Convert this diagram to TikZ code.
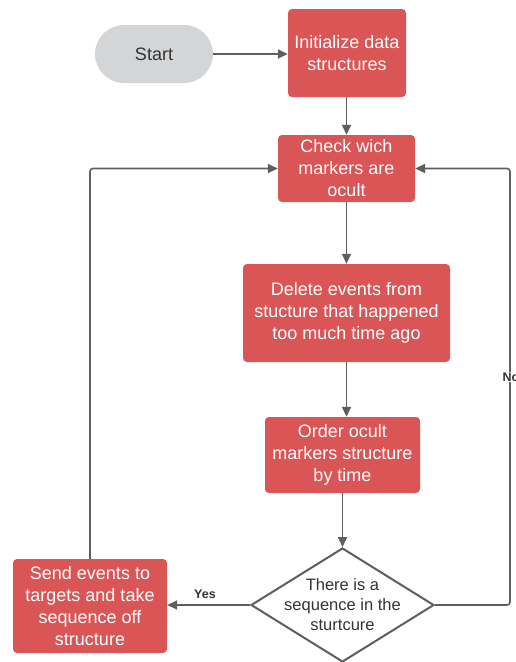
\documentclass[tikz,border=0pt]{standalone}
\usepackage{fontspec}
\setmainfont{Liberation Sans}
\usetikzlibrary{arrows.meta,shapes.geometric}
\definecolor{boxred}{RGB}{217,85,86}
\definecolor{startgray}{RGB}{212,213,215}
\definecolor{linegray}{RGB}{94,94,94}
\definecolor{textdark}{RGB}{51,51,51}
\tikzset{
  process/.style={draw=none, fill=boxred, rounded corners=4pt, text=white,
    align=center, inner sep=0pt, font=\fontsize{18}{22}\selectfont},
  terminal/.style={draw=none, fill=startgray, rounded corners=29pt, text=textdark,
    align=center, inner sep=0pt, font=\fontsize{18}{22}\selectfont},
  decision/.style={diamond, draw=linegray, line width=2pt, fill=white, inner sep=0pt},
  flow/.style={draw=linegray, line width=1.6pt, rounded corners=3pt,
    -{Triangle[length=10pt,width=9pt]}},
  edgelabel/.style={font=\bfseries\fontsize{12.5}{14}\selectfont, text=textdark,
    fill=white, inner sep=1pt}
}
\begin{document}
\begin{tikzpicture}[x=1pt,y=-1pt]
\useasboundingbox (0,0) rectangle (515,662);
\clip (0,0) rectangle (515,662);

\node[terminal, minimum width=118pt, minimum height=58pt] (start) at (154,54) {Start};
\node[process, minimum width=118pt, minimum height=88pt] (init) at (347,53) {Initialize data\\structures};
\node[process, minimum width=137pt, minimum height=67pt] (check) at (346.5,168.5) {Check wich\\markers are\\ocult};
\node[process, minimum width=207pt, minimum height=98pt] (del) at (346.5,313) {Delete events from\\stucture that happened\\too much time ago};
\node[process, minimum width=155pt, minimum height=76pt] (order) at (342.5,455) {Order ocult\\markers structure\\by time};
\node[decision, minimum width=183pt, minimum height=114pt] (dia) at (342.5,605) {};
\node[text=textdark, align=center, font=\fontsize{16.5}{20}\selectfont] (diatext) at (dia.center) {There is a\\sequence in the\\sturtcure};
\node[process, minimum width=154pt, minimum height=94pt] (send) at (90,606) {Send events to\\targets and take\\sequence off\\structure};

\coordinate (rt) at (510,168.5);

\draw[flow] (start.east) -- (init.west |- start.east);
\draw[flow] (init.south -| check.north) -- (check.north);
\draw[flow] (check.south) -- (del.north);
\draw[flow] (del.south) -- (del.south |- order.north);
\draw[flow] (order.south -| dia.north) -- (dia.north);
\draw[flow] (dia.west) -- (send.east |- dia.west);
\draw[flow] (send.north) |- (check.west);
\draw[flow] (dia.east) -| (rt) -- (check.east);

\node[edgelabel] (yes) at (205,594) {Yes};
\node[edgelabel] (no) at (511,377) {No};
\end{tikzpicture}
\end{document}
